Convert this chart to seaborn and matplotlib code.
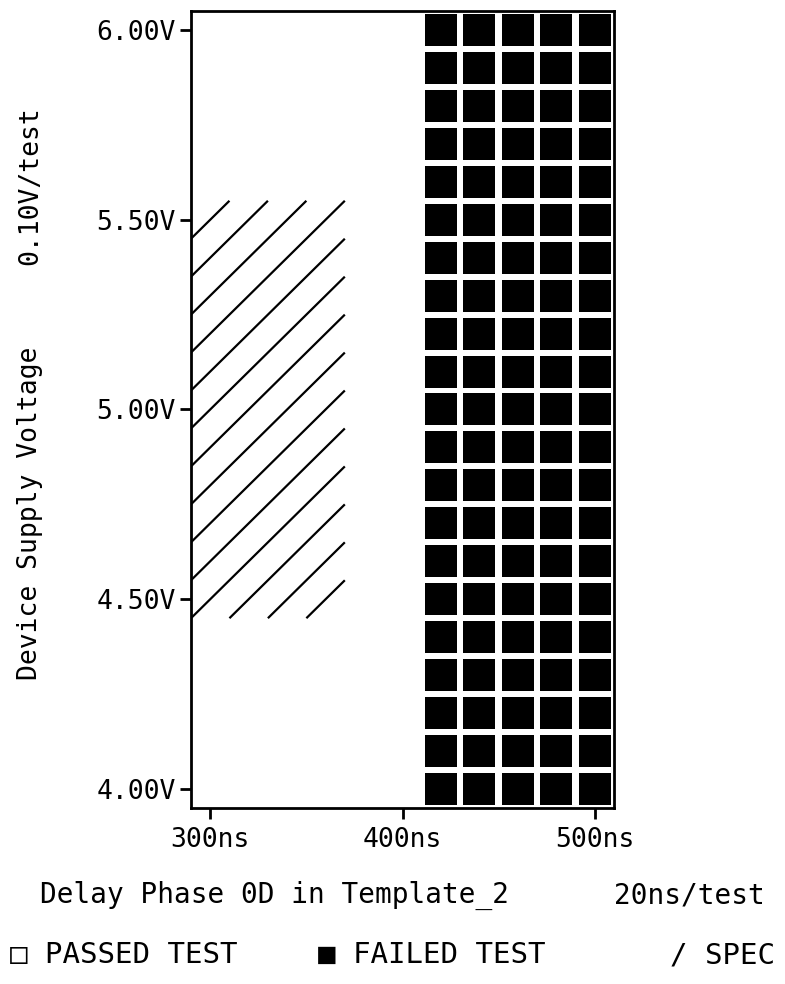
import matplotlib
matplotlib.use('Agg')
import matplotlib.pyplot as plt
import seaborn as sns
import pandas as pd
import numpy as np

# shmoo grid
delays_ns = [300, 320, 340, 360, 380, 400, 420, 440, 460, 480, 500]
voltages = [4.0, 4.1, 4.2, 4.3, 4.4, 4.5, 4.6, 4.7, 4.8, 4.9, 5.0,
            5.1, 5.2, 5.3, 5.4, 5.5, 5.6, 5.7, 5.8, 5.9, 6.0]
column_result = ["pass", "pass", "pass", "pass", "pass", "pass",
                 "fail", "fail", "fail", "fail", "fail"]

# spec window
spec_delay = [290, 370]
spec_voltage = [4.45, 5.55]

x_ticks = [300, 400, 500]
x_ticklabels = ["300ns", "400ns", "500ns"]
y_ticks = [4.0, 4.5, 5.0, 5.5, 6.0]
y_ticklabels = ["4.00V", "4.50V", "5.00V", "5.50V", "6.00V"]

rows = []
for d, r in zip(delays_ns, column_result):
    for v in voltages:
        rows.append({"delay": d, "voltage": v, "result": r})
df = pd.DataFrame(rows)

sns.set_style("white")
plt.rcParams['font.family'] = ['DejaVu Sans Mono', 'DejaVu Sans']
plt.rcParams['text.color'] = 'black'

fig = plt.figure(figsize=(7.85, 9.84), dpi=100)
ax = fig.add_axes([0.2433, 0.1789, 0.5389, 0.8099])

sns.scatterplot(data=df[df.result == "fail"], x="delay", y="voltage",
                marker="s", s=500, color="black", linewidth=0, ax=ax, legend=False)
sns.scatterplot(data=df[df.result == "pass"], x="delay", y="voltage",
                marker="s", s=500, color="white", linewidth=0, ax=ax, legend=False)

# spec hatch: diagonal lines one test step apart
step_t = delays_ns[1] - delays_ns[0]
step_v = voltages[1] - voltages[0]
slope = step_v / step_t
x0, x1 = spec_delay
ylo, yhi = spec_voltage
for c in np.arange(yhi - step_v, ylo - slope * (x1 - x0), -step_v):
    xs = max(x0, x0 + (ylo - c) / slope)
    xe = min(x1, x0 + (yhi - c) / slope)
    if xe - xs < 1:
        continue
    ax.plot([xs, xe], [c + slope * (xs - x0), c + slope * (xe - x0)],
            color="black", linewidth=1.6, solid_capstyle="butt")

ax.set_xlim(290, 510)
ax.set_ylim(3.95, 6.05)
ax.set_xticks(x_ticks)
ax.set_xticklabels(x_ticklabels)
ax.set_yticks(y_ticks)
ax.set_yticklabels(y_ticklabels)
ax.set_xlabel("")
ax.set_ylabel("")
ax.tick_params(axis="both", direction="out", length=8, width=2,
               labelsize=19, color="black", labelcolor="black", pad=3,
               bottom=True, left=True, top=False, right=False)
ax.tick_params(axis="x", pad=6)
for s in ax.spines.values():
    s.set_visible(True)
    s.set_color("black")
    s.set_linewidth(2)

# axis captions
fig.text(40 / 785, 1 - 895 / 984, "Delay Phase 0D in Template_2",
         ha="left", va="center", fontsize=20)
fig.text(765 / 785, 1 - 895 / 984, "20ns/test",
         ha="right", va="center", fontsize=20)
fig.text(30 / 785, 1 - 680 / 984, "Device Supply Voltage",
         ha="center", va="bottom", rotation=90, fontsize=19)
fig.text(30 / 785, 1 - 106 / 984, "0.10V/test",
         ha="center", va="top", rotation=90, fontsize=19)

# legend line
fig.text(10 / 785, 1 - 955 / 984, "□ PASSED TEST", ha="left", va="center", fontsize=21)
fig.text(318 / 785, 1 - 955 / 984, "■ FAILED TEST", ha="left", va="center", fontsize=21)
fig.text(775 / 785, 1 - 955 / 984, "/ SPEC", ha="right", va="center", fontsize=21)

plt.savefig("out.png", dpi=100, facecolor="white")
plt.close()
